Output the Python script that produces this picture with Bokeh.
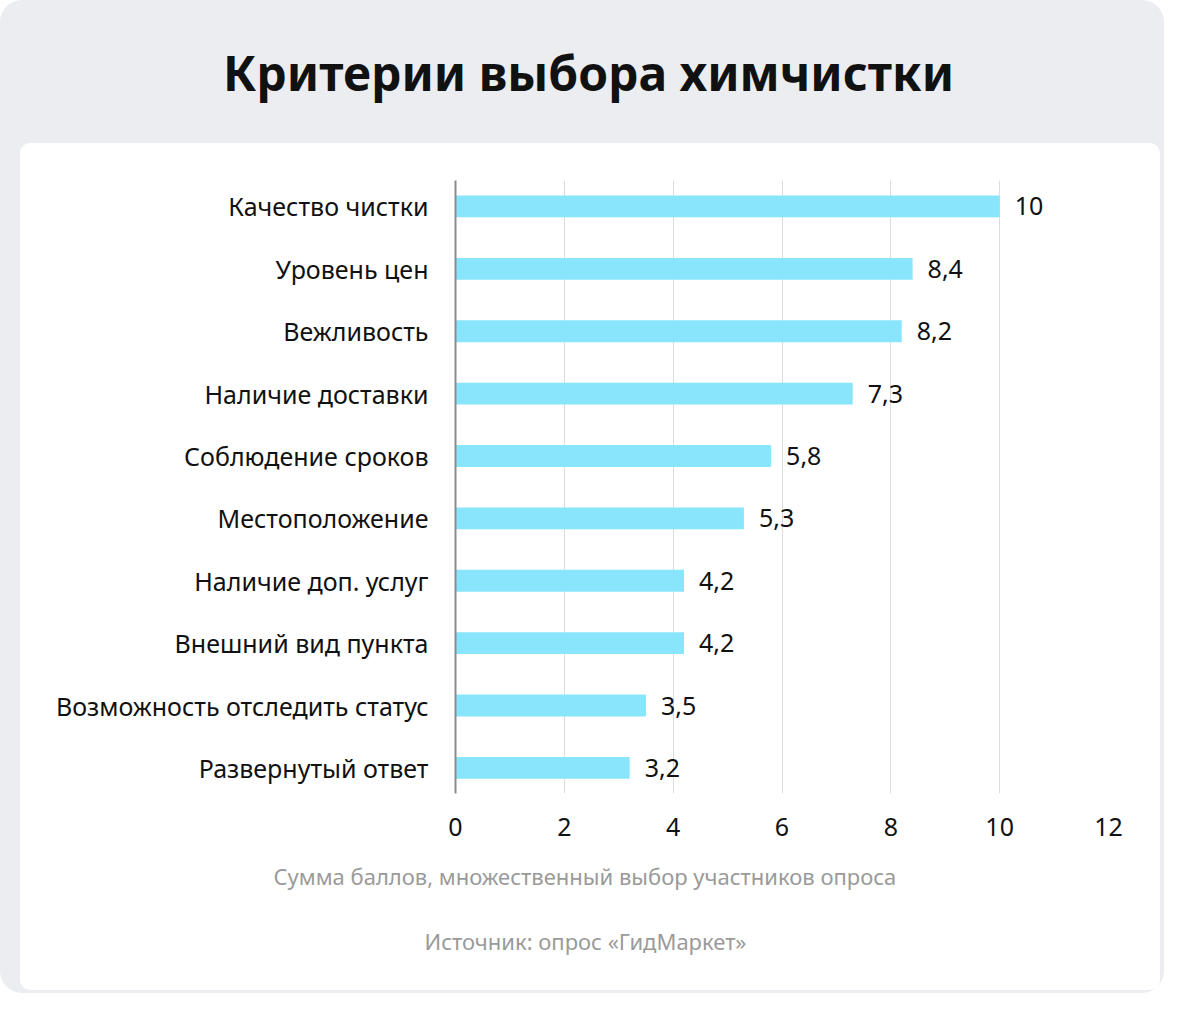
from bokeh.plotting import figure
from bokeh.models import Range1d, FixedTicker, Title, ColumnDataSource, LinearAxis
from bokeh.core.properties import value
from bokeh.embed import file_html
from bokeh.resources import INLINE

categories = ["Качество чистки", "Уровень цен", "Вежливость", "Наличие доставки",
              "Соблюдение сроков", "Местоположение", "Наличие доп. услуг",
              "Внешний вид пункта", "Возможность отследить статус", "Развернутый ответ"]
scores = [10, 8.4, 8.2, 7.3, 5.8, 5.3, 4.2, 4.2, 3.5, 3.2]
x_ticks = [0, 2, 4, 6, 8, 10, 12]

title_text = "Критерии выбора химчистки"
note_text = "Сумма баллов, множественный выбор участников опроса"
source_text = "Источник: опрос «ГидМаркет»"

FONT = "Noto Sans"
W, H = 1164, 993

n = len(categories)
ypos = [n - 1 - i for i in range(n)]
labels = [("%g" % v).replace(".", ",") for v in scores]
src = ColumnDataSource(dict(y=ypos, v=scores, lab=labels))

p = figure(width=W, height=H, output_backend="svg", toolbar_location=None,
           x_range=Range1d(0, 12), y_range=Range1d(-0.41, n - 1 + 0.416),
           min_border_left=455, min_border_right=56, min_border_top=180,
           min_border_bottom=200)
p.title = None
p.border_fill_color = None
p.background_fill_color = None
p.outline_line_color = None
p.styles = {"background-color": "#ECEDF1", "border-radius": "22px"}
p.stylesheets = [""":host::before {
  content: "";
  position: absolute;
  left: 20px; top: 143px; width: 1140px; height: 847px;
  background: #ffffff;
  border-radius: 10px;
}"""]

p.hbar(y="y", right="v", left=0, height=0.35, source=src,
       fill_color="#89E5FC", line_color=None)
p.text(x="v", y="y", text="lab", source=src, x_offset=15,
       text_baseline="middle", text_align="left",
       text_font=value(FONT), text_font_size="25px", text_color="#111111")

p.xaxis.ticker = FixedTicker(ticks=x_ticks)
p.xaxis.axis_line_color = None
p.xaxis.major_tick_line_color = None
p.xaxis.minor_tick_line_color = None
p.xaxis.major_label_text_font = FONT
p.xaxis.major_label_text_font_size = "25px"
p.xaxis.major_label_text_color = "#111111"
p.xaxis.major_label_standoff = 18

p.yaxis.ticker = FixedTicker(ticks=ypos)
p.yaxis.major_label_overrides = {y: c for y, c in zip(ypos, categories)}
p.yaxis.axis_line_color = "#8c8c8c"
p.yaxis.axis_line_width = 2
p.yaxis.major_tick_line_color = None
p.yaxis.minor_tick_line_color = None
p.yaxis.major_label_text_font = FONT
p.yaxis.major_label_text_font_size = "25px"
p.yaxis.major_label_text_color = "#111111"
p.yaxis.major_label_standoff = 21

p.xgrid.ticker = FixedTicker(ticks=x_ticks)
p.xgrid.grid_line_color = "#dcdcdc"
p.ygrid.grid_line_color = None

# main heading carried by an empty top axis; trailing no-break spaces move its centre left
title_axis = LinearAxis(ticker=FixedTicker(ticks=[]),
                        axis_line_color=None, major_tick_line_color=None,
                        minor_tick_line_color=None, major_tick_out=0,
                        major_label_standoff=0, major_label_text_font_size="0px",
                        axis_label=title_text + "\u00a0" * 31, axis_label_standoff=76,
                        axis_label_text_font=FONT, axis_label_text_font_style="bold",
                        axis_label_text_font_size="48px", axis_label_text_color="#111111")
p.add_layout(title_axis, "above")

p.add_layout(Title(text=note_text, align="left", offset=-182, standoff=40,
                   text_font=FONT, text_font_style="normal", text_font_size="22px",
                   text_color="#9a9a9a"), "below")
p.add_layout(Title(text=source_text, align="left", offset=-31, standoff=26,
                   text_font=FONT, text_font_style="normal", text_font_size="22px",
                   text_color="#9a9a9a"), "below")

open("out.html", "w").write(file_html(p, INLINE))
